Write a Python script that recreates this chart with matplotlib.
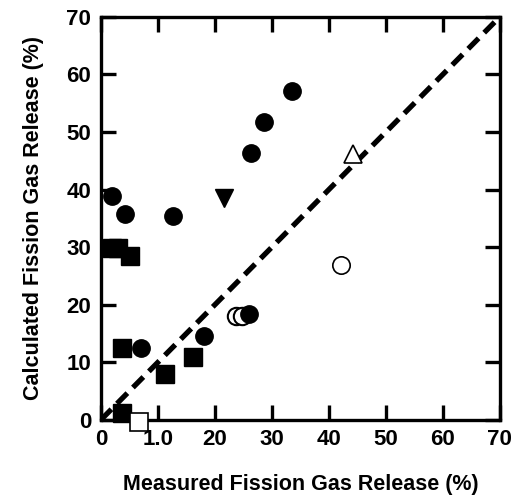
import matplotlib.pyplot as plt
import numpy as np

plt.rcParams['font.family'] = ['Liberation Sans', 'DejaVu Sans']
plt.rcParams['font.weight'] = 'bold'

# measured vs calculated fission gas release (%)
circ_x = [2.0, 4.2, 12.7, 33.5, 28.6, 26.4, 7.0, 18.1, 26.0]
circ_y = [38.8, 35.8, 35.4, 57.2, 51.7, 46.4, 12.5, 14.6, 18.3]
ring_x = [23.7, 24.8]
ring_y = [18.0, 18.1]
open_circ_x = [42.2]
open_circ_y = [26.8]
sq_x = [1.9, 3.0, 5.1, 3.7, 11.2, 16.1, 3.7]
sq_y = [29.8, 29.8, 28.4, 12.4, 8.0, 10.9, 1.2]
open_sq_x = [6.6]
open_sq_y = [-0.4]
tri_up_x = [44.2]
tri_up_y = [46.2]
tri_dn_x = [21.5]
tri_dn_y = [38.6]

ticks = [0, 10, 20, 30, 40, 50, 60, 70]
xtick_labels = ['0', '1.0', '20', '30', '40', '50', '60', '70']

fig = plt.figure(figsize=(5.18, 4.95), dpi=100)
ax = fig.add_axes([0.195, 0.152, 0.77, 0.814])

# 1:1 line
ax.plot([0, 70], [0, 70], color='black', lw=3.8, dashes=(2.8, 1.5), zorder=1)

ax.plot(sq_x, sq_y, 's', ms=12.5, color='black', mec='black', clip_on=False, zorder=3)
ax.plot(open_sq_x, open_sq_y, 's', ms=12.5, mfc='white', mec='black', mew=1.2, clip_on=False, zorder=4)
for x, y in zip(ring_x, ring_y):
    ax.plot(x, y, 'o', ms=12.5, mfc='white', mec='black', mew=1.5, clip_on=False, zorder=3)
ax.plot(circ_x, circ_y, 'o', ms=12.5, color='black', clip_on=False, zorder=4)
ax.plot(open_circ_x, open_circ_y, 'o', ms=12.5, mfc='white', mec='black', mew=1.2, zorder=3)
ax.plot(tri_up_x, tri_up_y, '^', ms=12.5, mfc='white', mec='black', mew=1.2, zorder=3)
ax.plot(tri_dn_x, tri_dn_y, 'v', ms=12.5, color='black', zorder=3)

ax.set_xlim(0, 70)
ax.set_ylim(0, 70)
ax.set_xticks(ticks)
ax.set_xticklabels(xtick_labels)
ax.set_yticks(ticks)
ax.tick_params(direction='in', length=11, width=2.4, labelsize=16, pad=7,
               top=True, right=True)
for s in ax.spines.values():
    s.set_linewidth(2.4)

ax.set_xlabel('Measured Fission Gas Release (%)', fontsize=15.5, fontweight='bold', labelpad=17)
ax.set_ylabel('Calculated Fission Gas Release (%)', fontsize=15.5, fontweight='bold', labelpad=16)

fig.savefig('out.png', dpi=100)
